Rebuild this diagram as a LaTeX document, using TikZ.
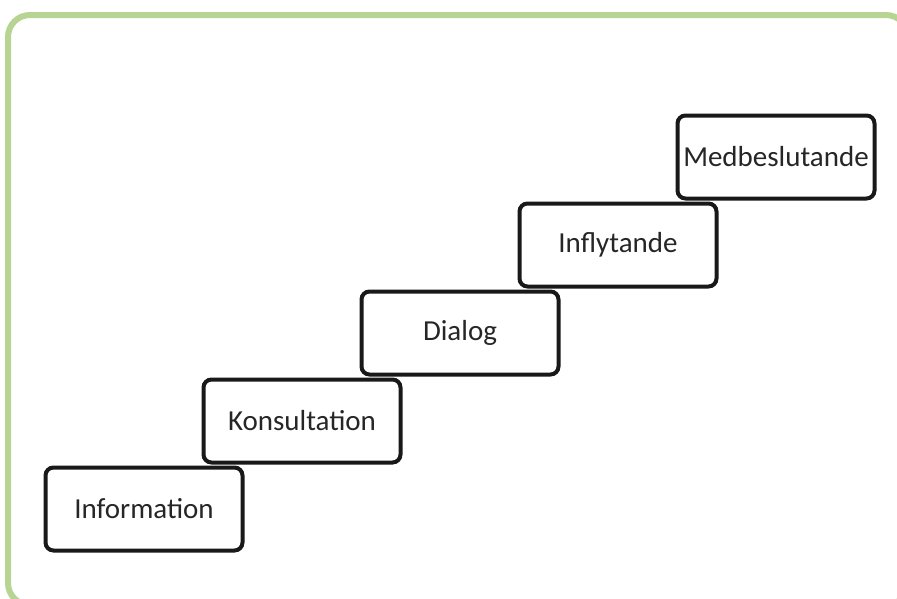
\documentclass[tikz,border=0pt]{standalone}
\usepackage{fontspec}
\setmainfont{Carlito}
\usetikzlibrary{positioning}
\definecolor{framegreen}{RGB}{183,212,146}
\begin{document}
\begin{tikzpicture}[
  x=1pt, y=1pt,
  node distance = 88pt and 158pt,
  on grid,
  block_step/.style={rectangle, text centered, rounded corners=8pt, line width=4pt,
    draw=black!90, text=black!85, font=\fontsize{29}{32}\selectfont,
    minimum height = 83pt, minimum width = 197pt},
  frame/.style={draw=framegreen, line width=6pt, rounded corners=22pt}
  ]
\useasboundingbox (0,0) rectangle (897,-598);

% outer frame
\begin{scope}
\clip (0,0) rectangle (897,-598);
\draw [frame] (8,-15) rectangle (908,-605);
\end{scope}

% steps
\node [block_step] (info) at (144,-509) {Information};
\node [block_step, above right=of info] (konsult) {Konsultation};
\node [block_step, above right=of konsult] (dialog) {Dialog};
\node [block_step, above right=of dialog] (inflyt) {Inflytande};
\node [block_step, above right=of inflyt] (medbesl) {Medbeslutande};

\end{tikzpicture}
\end{document}
